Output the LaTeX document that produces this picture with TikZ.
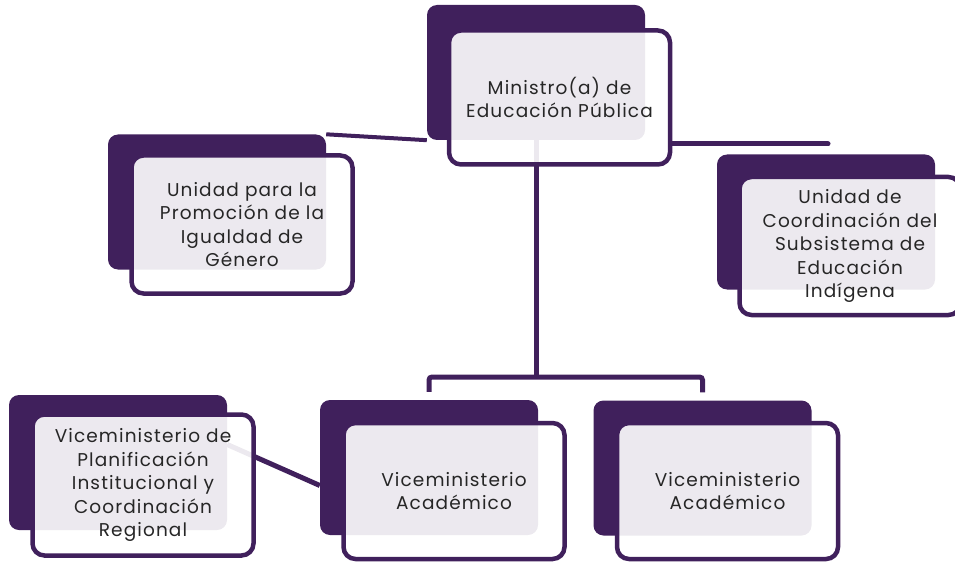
\documentclass[tikz,border=0pt]{standalone}
\usepackage{fontspec}
\setmainfont[LetterSpace=6]{Poppins}
\definecolor{mepviolet}{HTML}{40205C}
\definecolor{inkgray}{HTML}{262626}
\usetikzlibrary{positioning, backgrounds}

\begin{document}
\begin{tikzpicture}[
  x=1pt, y=-1pt,
  backbox/.style={fill=mepviolet, rounded corners=10pt, inner sep=0pt,
                  minimum width=218pt, minimum height=135pt},
  frontbox/.style={draw=mepviolet, line width=4.5pt, fill=white,
                   fill opacity=0.9, text opacity=1, rounded corners=12pt,
                   minimum width=221pt, minimum height=138pt, align=center,
                   inner sep=2pt, text=inkgray,
                   font=\fontsize{18.5}{23.5}\selectfont},
  link/.style={draw=mepviolet, line width=5pt},
]
\useasboundingbox (0,0) rectangle (955,564);

% dark back plates
\node[backbox] (minback) at (536,72.5) {};
\node[backbox] (genback) at (217,202) {};
\node[backbox] (indback) at (826,222) {};
\node[backbox] (planback) at (118,462.5) {};
\node[backbox] (acaback) at (429,467.5) {};
\node[backbox] (acbback) at (702.5,468) {};

% front cards
\node[frontbox, minimum height=134pt] (minfront) at (559.5,97.5) {
  Ministro(a) de\\Educación Pública
};
\node[frontbox] (genfront) at (242,224.5) {
  Unidad para la\\Promoción de la\\Igualdad de\\Género
};
\node[frontbox] (indfront) at (850,246) {
  Unidad de\\Coordinación del\\Subsistema de\\Educación\\Indígena
};
\node[frontbox, minimum height=141pt] (planfront) at (143,485) {
  Viceministerio de\\Planificación\\Institucional y\\Coordinación\\Regional
};
\node[frontbox, minimum height=136pt] (acafront) at (454,491) {
  Viceministerio\\Académico
};
\node[frontbox, minimum height=136pt] (acbfront) at (727.5,491) {
  Viceministerio\\Académico
};

\coordinate (fork) at (536,377);
\coordinate (indend) at (828,144);

% connectors behind everything
\begin{scope}[on background layer]
  \draw[link] (minback.south) -- (fork);
  \draw[link, rounded corners=3pt] ([yshift=8pt]acaback.north) |- (fork)
    -| ([yshift=8pt]acbback.north);
  \draw[link, line width=4pt] (genback.north east) -- (minback.south west);
  \draw[link, line cap=round] (indend -| minfront.east) -- (indend);
  \draw[link] ([yshift=18pt]planback.east) -- ([yshift=-18pt]acaback.west);
\end{scope}
\end{tikzpicture}
\end{document}
